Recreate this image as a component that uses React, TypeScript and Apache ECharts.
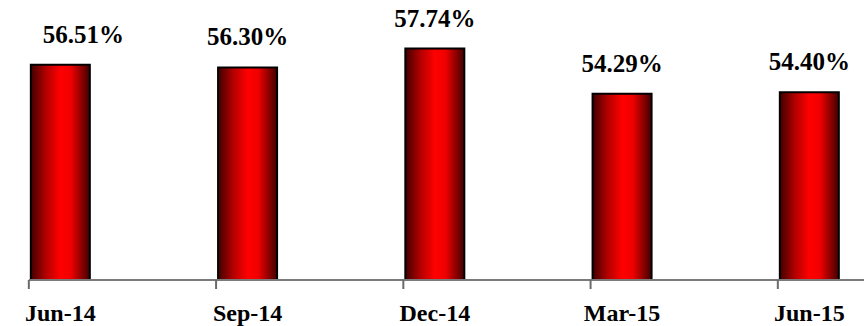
import React, { useEffect, useRef } from "react";
import * as echarts from "echarts";

const categories = ["Jun-14", "Sep-14", "Dec-14", "Mar-15", "Jun-15"];
const values = [56.51, 56.3, 57.74, 54.29, 54.4];

export default function App() {
  const ref = useRef<HTMLDivElement>(null);
  useEffect(() => {
    if (!ref.current) return;
    const chart = echarts.init(ref.current, null, { renderer: "svg" });
    const font = "'Liberation Serif', 'Times New Roman', serif";
    const barGradient = new echarts.graphic.LinearGradient(0, 0, 1, 0, [
      { offset: 0, color: "#400000" },
      { offset: 0.25, color: "#b00000" },
      { offset: 0.5, color: "#ff0000" },
      { offset: 0.68, color: "#f00000" },
      { offset: 1, color: "#400000" },
    ]);
    const band = 187.25;
    const barWidth = 61;
    const yMin = 40;
    chart.setOption({
      animation: false,
      backgroundColor: "#ffffff",
      grid: [
        { left: -33.3, width: band * categories.length, top: 18, bottom: 46, outerBoundsMode: "none", containLabel: false },
      ],
      xAxis: [
        {
          type: "category",
          gridIndex: 0,
          data: categories,
          axisLine: { show: false },
          axisTick: { show: false },
          axisLabel: {
            color: "#000",
            fontFamily: font,
            fontWeight: "bold",
            fontSize: 24,
            lineHeight: 24,
            margin: 21,
          },
        },
      ],
      yAxis: [{ type: "value", gridIndex: 0, min: yMin, max: 60, show: false }],
      series: [
        {
          type: "bar",
          barWidth: barWidth,
          data: values.map((v, i) =>
            i === 0 ? { value: v, label: { offset: [23, 0] } } : { value: v }
          ),
          itemStyle: {
            color: barGradient,
            borderColor: "#000",
            borderWidth: 2,
          },
          label: {
            show: true,
            position: "top",
            distance: 17,
            color: "#000",
            fontFamily: font,
            fontWeight: "bold",
            fontSize: 25,
            lineHeight: 25,
            formatter: (p: any) => Number(p.value).toFixed(2) + "%",
          },
        },
      ],
    });

    // Axis line and ticks at each bar's left edge, positioned via the chart's own scales
    const baseY = chart.convertToPixel({ yAxisIndex: 0 }, yMin) as number;
    const tickXs = categories.map(
      (c) => (chart.convertToPixel({ xAxisIndex: 0 }, c) as number) - barWidth / 2 - 1
    );
    const elements: any[] = [
      {
        type: "line",
        shape: { x1: tickXs[0], y1: baseY, x2: 864, y2: baseY },
        style: { stroke: "#7a7a7a", lineWidth: 2 },
        z: 10,
      },
      ...tickXs.map((x) => ({
        type: "line",
        shape: { x1: x, y1: baseY, x2: x, y2: baseY + 9 },
        style: { stroke: "#6a6a6a", lineWidth: 2 },
        z: 10,
      })),
    ];
    chart.setOption({ graphic: { elements } });
    return () => chart.dispose();
  }, []);
  return (
    <div
      ref={ref}
      style={{ position: "fixed", left: 0, top: 0, width: 864, height: 326 }}
    />
  );
}
